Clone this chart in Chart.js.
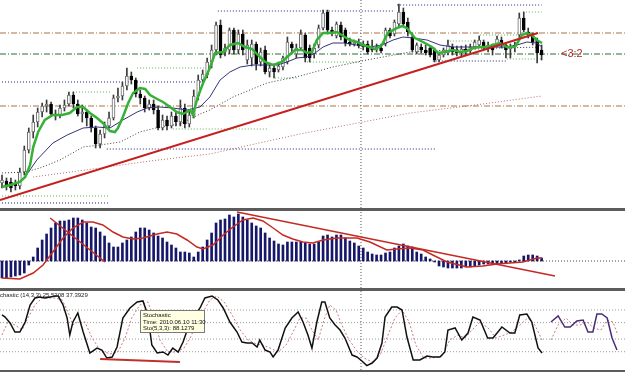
<!DOCTYPE html>
<html><head><meta charset="utf-8">
<script src="https://cdn.jsdelivr.net/npm/chart.js@4.4.1/dist/chart.umd.min.js"></script>
<style>
html,body{margin:0;padding:0;background:#fff;}
#wrap{position:relative;width:625px;height:372px;overflow:hidden;background:#fff;font-family:"Liberation Sans",Arial,sans-serif;}
canvas{position:absolute;left:0;}
.sep{position:absolute;left:0;width:625px;background:#5c5c5c;}
#lbl32{position:absolute;left:561px;top:47px;font-size:11px;line-height:12px;color:#b52a2a;}
#stTitle{position:absolute;left:-9px;top:292px;font-size:6px;line-height:7px;color:#222;white-space:nowrap;}
#tip{position:absolute;left:140px;top:310px;width:65px;height:23px;background:#ffffe1;border:1px solid #7a7a7a;font-size:6px;line-height:6.6px;color:#111;padding:1px 0 0 2px;box-sizing:border-box;white-space:nowrap;}
</style></head><body>
<div id="wrap">
<canvas id="main" width="625" height="208" style="top:0"></canvas>
<div class="sep" style="top:208px;height:3px"></div>
<canvas id="macd" width="625" height="77" style="top:211px"></canvas>
<div class="sep" style="top:288px;height:3px"></div>
<canvas id="stoch" width="625" height="79" style="top:291px"></canvas>
<div class="sep" style="top:370px;height:2px"></div>
<div id="lbl32">&lt;3:2</div>
<div id="stTitle">Stochastic (14,3,3) 25.5208 37.3929</div>
<div id="tip">Stochastic<br>Time: 2010.06.10 11:30<br>Sto(5,3,3): 88.1279</div>
</div>
<script>
// ---------- DATA (price in points, bar index on x) ----------
const candleOpen = [117,119,118,116,114,128,150,168,178,188, 194,196,186,184,192,196,205,196,186,188, 182,172,156,166,174,182,202,204,214,224, 220,206,202,192,196,190,172,180,174,184, 178,192,176,185,204,220,225,238,250,275, 248,250,270,250,266,240,242,256,238,250, 228,232,230,233,238,256,246,252,265,252, 246,255,272,288,270,264,275,270,258,256, 258,256,256,252,250,252,256,270,266,276, 288,278,263,248,253,250,252,250,240,245, 247,253,250,247,251,249,253,255,258,253, 255,255,260,255,251,253,265,282,268,264, 260,250];
const candleHigh = [125,122,122,120,132,154,172,185,192,197, 200,198,190,195,200,208,208,200,195,190, 184,174,170,178,188,205,212,218,232,228, 222,210,204,200,200,194,185,184,188,188, 200,196,190,210,225,230,242,255,278,280, 256,272,272,270,270,260,260,258,252,254, 236,236,238,244,263,258,256,270,267,255, 256,275,290,290,273,278,278,272,262,260, 261,259,259,260,256,256,272,272,280,296, 292,282,267,257,256,255,254,252,246,252, 260,256,254,254,255,256,260,264,260,258, 256,264,263,256,256,258,287,288,272,267, 262,255];
const candleLow = [112,110,108,110,111,125,147,162,173,183, 188,184,180,182,189,194,192,184,178,174, 168,152,152,162,172,180,198,200,210,216, 203,196,188,190,186,170,170,170,172,174, 174,172,173,182,200,218,222,232,245,242, 244,246,246,246,245,236,234,230,234,226, 223,222,228,230,236,246,242,250,238,238, 242,252,270,266,264,262,260,254,254,254, 252,250,246,248,248,247,254,262,264,274, 274,264,248,246,247,245,243,238,238,243, 245,245,244,244,245,247,251,253,250,248, 245,253,252,242,242,248,262,268,262,255, 237,240];
const candleClose = [120,114,112,114,128,150,168,178,188,194, 196,186,184,192,195,205,196,186,188,182, 172,156,166,174,182,202,204,214,224,220, 206,202,192,196,190,172,180,174,184,178, 192,176,185,204,220,226,238,250,275,245, 252,270,250,266,250,255,256,236,248,228, 232,228,234,242,258,252,252,266,242,242, 252,272,287,270,267,276,263,257,256,258, 254,253,248,250,253,249,270,264,278,288, 276,268,250,255,250,247,245,240,245,250, 255,248,247,251,248,253,258,260,253,255, 250,261,255,250,253,255,282,270,265,258, 247,245];

// moving averages: [barIndex, value]
const fastMA = [[0,113],[1.8,115],[4,118],[5.2,123],[6.3,135],[7,153],[8.1,168],[9.6,180],[11.4,185],[13.5,185],[15.2,187],[16.8,193],[18.2,193],[19.7,187],[21.3,182],[22.6,177],[24.2,169],[25.3,168],[26,172],[27.1,183],[28.3,197],[29.4,207],[30.9,212],[32.1,211],[33.2,205],[34.8,201],[36.1,198],[37.7,193],[39.2,188],[40.6,186],[42.2,190],[42.8,185],[43.9,203],[45.1,217],[46.6,232],[47.8,247],[49.6,248],[51.1,255],[52.9,257],[54.5,253],[56.1,251],[57.4,245],[59,238],[60.8,235],[62.8,238],[63.9,243],[65.7,250],[67.3,250],[68.4,247],[69.5,248],[70.6,260],[72,267],[73.5,267],[75.1,268],[76.5,264],[78,260],[79.6,258],[80.9,255],[82.5,253],[83.6,251],[85.2,255],[86.5,267],[88.6,272],[89.7,274],[90.8,272],[91.5,268],[92.6,262],[94.4,258],[96.4,253],[97.8,247],[99.3,248],[101.1,250],[102.7,248],[104.3,249],[105.6,252],[107.2,253],[108.7,253],[110.1,255],[111.7,257],[113.2,253],[115,253],[115.7,258],[116.6,265],[117.7,267],[118.8,265],[119.9,260],[121.1,257]];
const midMA = [[5.2,123],[7.8,140],[11.4,157],[14.6,165],[18.2,172],[21.3,173],[24.2,172],[27.1,180],[30.3,188],[32.5,192],[35.4,193],[38.3,192],[41.5,190],[44.4,193],[46.6,203],[48.9,220],[51.1,228],[53.4,233],[56.3,235],[59.4,235],[61.7,235],[63.9,238],[66.1,242],[68.4,243],[70.2,247],[72,253],[74.2,257],[76.5,257],[79.6,255],[82.5,253],[85.2,255],[87.7,260],[89.9,263],[92.2,262],[95.3,260],[98.2,255],[101.1,253],[104.3,253],[107.2,253],[110.1,253],[113.2,253],[115.5,255],[117.7,258],[119.9,257],[121.1,253]];
const slowMA = [[0,127],[5.2,128],[8.5,132],[13,140],[18.2,153],[22,155],[26.5,158],[30.9,168],[35.4,173],[39.9,176],[44.4,186],[46.6,190],[51.8,203],[59.4,217],[66.8,224],[74.2,233],[81.8,240],[91.5,248],[100.4,250],[111.7,252],[121.1,253]];
const longMA = [[7,123],[22,132],[33.2,139],[46.6,146],[66.8,166],[91.5,187],[106.1,195],[121.1,204]];
const trendMain = [[-0.45,100],[120.2,267]];

// horizontal levels: full width and partial [value, fromBar, toBar]
const brownLevels = [267,194];
const greenLevel = 246;
const navyDotted = [[218,0,45.5],[151,23.5,97.5],[97,0,24],[289,48.4,88.1],[295,88.6,121],[239,96.6,113.2]];
const greenDotted = [[104,0,24],[171,38.3,59.6],[232,30.3,46.6],[208,15.9,24.2],[238,68.4,80.3],[222,61.2,66.1],[288,116.8,121],[265,107.2,115.5],[259,100.4,107.2],[241,113.2,121]];
const cursorBar = 80.5;

// MACD
const macdHist = [-17,-17,-16,-15,-14,-12,-4,4,13,21, 27,33,38,40,40,41,43,43,41,38, 34,33,29,25,18,14,14,18,21,24, 29,33,33,31,28,25,23,19,16,13, 9,9,8,4,9,14,21,28,38,41, 42,46,44,47,44,41,38,35,33,28, 23,20,17,16,19,19,19,19,18,17, 17,19,25,26,24,26,26,23,20,18, 15,13,9,7,6,6,8,9,13,15, 17,15,14,9,7,4,2,-1,-5,-6, -7,-7,-7,-7,-6,-6,-5,-4,-3,-3, -2,-3,-2,-2,-1,-1,1,5,6,6, 5,3];
const macdSignal = [[0,-17],[4,-18],[7,-12],[9.2,-4],[11.4,9],[13.7,23],[15.9,33],[18.2,39],[20.4,39],[22.6,36],[24.9,29],[27.1,24],[29.4,22],[31.6,23],[34.8,27],[37,29],[39.2,27],[41.5,21],[43.7,14],[45.1,12],[47.3,16],[49.6,26],[51.8,34],[54,41],[56.3,43],[58.5,40],[60.8,33],[63,26],[65.2,22],[67.5,19],[69.7,18],[72,21],[75.1,23],[79.6,23],[82.5,19],[86.3,11],[88.6,12],[91.5,13],[94.4,11],[96.6,6],[99.8,-1],[104.3,-6],[107.8,-5],[111,-3],[113.9,-2],[116.8,-1],[120,3],[121.1,3]];
const macdTrend1 = [[10.8,43],[23.1,-1]];
const macdTrend2 = [[52.7,49],[124,-15]];

// Stochastic
const stochLevels = [80,61.8,38.2,20];
const stochMain = [[0,72.8],[0.7,69.9],[1.8,61.3],[2.9,48.3],[4,48.3],[5.2,62.7],[6.3,87.2],[7.4,97.3],[8.5,98.7],[9.6,97.3],[10.8,98.7],[11.9,100],[12.6,100],[13.7,87.2],[14.6,68.5],[15.2,44],[15.9,62.7],[17,75.7],[18.2,48.3],[19.7,18.1],[21.3,25.3],[22.4,22.4],[23.5,10.9],[24.7,12.4],[25.8,26.8],[27.1,68.5],[28.7,82.9],[30.3,91.5],[31.6,93],[32.7,72.8],[33.6,29.6],[34.8,18.1],[36.1,19.6],[37.2,15.2],[38.3,25.3],[39.5,19.6],[40.6,34],[41.7,54.1],[42.8,68.5],[44.4,82.9],[45.5,97.3],[47.1,100],[48.4,94.4],[49.6,82.9],[51.1,62.7],[52.7,48.3],[53.8,34],[54.9,32.5],[56.1,32.5],[57.2,26.8],[57.8,36.8],[59,22.4],[60.1,19.6],[60.8,12.4],[61.9,22.4],[63.5,54.1],[65,68.5],[66.4,77.1],[67.5,62.7],[68.6,44],[69.5,25.3],[70.6,62.7],[71.7,91.5],[72.4,91.5],[73.5,68.5],[74.7,58.4],[75.8,51.2],[76.9,39.7],[78.5,15.2],[79.6,12.4],[80.7,6.6],[81.8,0],[83,3.7],[84.1,10.9],[85.2,32.5],[85.9,69.9],[87.4,84.3],[88.6,84.3],[89.7,80],[90.8,41.1],[92.2,8.1],[93.7,8.1],[95.3,13.8],[96.6,12.4],[98.2,12.4],[99.3,19.6],[100,51.2],[101.6,54.1],[103.1,36.8],[104.5,46.9],[105.6,69.9],[107.2,65.6],[108.9,39.7],[110.1,39.7],[112.1,55.5],[113.9,46.9],[115,46.9],[116.1,72.8],[117.7,74.2],[118.8,62.7],[120.2,25.3],[121.1,18.1]];
const stochSignal = [[0,44],[1.3,62.7],[2.9,58.4],[4.5,51.2],[5.8,68.5],[7.4,87.2],[9,97.3],[11.9,97.3],[13.5,94.4],[14.8,77.1],[15.9,58.4],[17,62.7],[18.6,62.7],[20.2,39.7],[22,22.4],[24.2,16.7],[26,19.6],[27.6,39.7],[29.1,68.5],[30.9,87.2],[32.7,91.5],[34.1,68.5],[35.4,36.8],[37.2,19.6],[39,19.6],[40.8,25.3],[42.2,39.7],[43.5,58.4],[45.1,77.1],[46.6,94.4],[48.2,100],[49.8,91.5],[51.6,72.8],[53.4,51.2],[55.2,36.8],[57,31.1],[58.5,29.6],[60.1,25.3],[61.9,19.6],[63.7,29.6],[65.5,51.2],[66.8,68.5],[68.2,68.5],[69.5,51.2],[70.9,36.8],[72.2,65.6],[73.5,87.2],[74.9,80],[76.2,58.4],[77.6,39.7],[79.4,22.4],[81.2,10.9],[83,5.2],[84.8,15.2],[86.3,39.7],[88.1,68.5],[89.7,80],[91.3,62.7],[92.8,29.6],[94.6,10.9],[96.4,10.9],[98.7,13.8],[100.4,36.8],[102.2,44],[103.8,39.7],[105.4,51.2],[107.2,62.7],[109,54.1],[110.8,39.7],[112.6,44],[114.3,48.3],[116.1,58.4],[117.9,68.5],[119.5,58.4],[121.1,36.8]];
const stochMain2 = [[123.1,62.7],[124.7,71.4],[126.2,55.5],[127.4,55.5],[128.9,64.2],[130.3,65.6],[131.4,48.3],[132.5,48.3],[133.4,74.2],[134.5,74.2],[135.7,68.5],[136.8,39.7],[137.9,22.4]];
const stochSignal2 = [[123.1,36.8],[124.7,58.4],[126.5,68.5],[128,58.4],[129.6,58.4],[131.2,62.7],[132.7,54.1],[134.3,51.2],[135.7,65.6],[137,62.7],[138.1,44]];
const stochTrend = [[22,9.5],[39.9,5.2]];

// ---------- RENDERING ----------
const X_MIN = -0.45, X_MAX = 139.7;
const pts = arr => arr.map(p => ({x:p[0], y:p[1]}));
function line(data, color, width, dash, order){
  return {type:'line', data, borderColor:color, borderWidth:width, borderDash:dash||[], pointRadius:0, fill:false, tension:0, order};
}
function hseg(v, a, b, color, width, dash, order){ return line([{x:a,y:v},{x:b,y:v}], color, width, dash, order); }
function vseg(x, lo, hi, order){ return line([{x,y:lo},{x,y:hi}], '#555', 1, [1,2], order); }
function opts(ymin, ymax){
  return {responsive:false, animation:false, devicePixelRatio:1, events:[],
    layout:{padding:0},
    plugins:{legend:{display:false}, tooltip:{enabled:false}},
    scales:{x:{type:'linear', min:X_MIN, max:X_MAX, display:false, offset:false},
            y:{min:ymin, max:ymax, display:false}}};
}

// main
const YMIN = 92, YMAX = 300;
const up = candleOpen.map((o,i) => candleClose[i] >= o);
const mainSets = [];
brownLevels.forEach(v => mainSets.push(hseg(v, X_MIN, X_MAX, '#a8734a', 1, [6,2,1,2], 60)));
mainSets.push(hseg(greenLevel, X_MIN, X_MAX, '#2f6a37', 1, [6,2,1,2], 60));
navyDotted.forEach(d => mainSets.push(hseg(d[0], d[1], d[2], '#23237e', 1, [1,2], 60)));
greenDotted.forEach(d => mainSets.push(hseg(d[0], d[1], d[2], '#58b04f', 1, [1,2], 60)));
mainSets.push(vseg(cursorBar, YMIN, YMAX, 55));
mainSets.push(line(pts(longMA), '#b86a6a', 1, [1,2], 45));
mainSets.push(line(pts(slowMA), '#3a3a3a', 1, [1,2], 45));
mainSets.push({type:'bar', data: candleOpen.map((o,i)=>({x:i, y:[candleLow[i], candleHigh[i]]})),
  backgroundColor:'#3a3a3a', barThickness:1, grouped:false, borderWidth:0, order:30});
mainSets.push({type:'bar', data: candleOpen.map((o,i)=>({x:i, y:[o, candleClose[i] === o ? o + 0.6 : candleClose[i]]})),
  backgroundColor: up.map(u => u ? '#ffffff' : '#000000'),
  borderColor: up.map(u => u ? '#6a6a6a' : '#000000'),
  borderWidth:1, borderSkipped:false, barThickness:3, grouped:false, order:20});
mainSets.push(line(pts(midMA), '#33337a', 1, [], 15));
mainSets.push(line(pts(fastMA), '#35b135', 2.5, [], 10));
mainSets.push(line(pts(trendMain), '#c4201d', 2, [], 5));
new Chart(document.getElementById('main'), {type:'bar', data:{datasets:mainSets}, options:opts(YMIN, YMAX)});

// MACD
const MMIN = -27, MMAX = 50;
const macdSets = [
  hseg(0, X_MIN, X_MAX, '#444', 1, [1,2], 60),
  vseg(cursorBar, MMIN, MMAX, 55),
  {type:'bar', data: macdHist.map((v,i)=>({x:i, y:v})), backgroundColor:'#17176a', barThickness:2, grouped:false, borderWidth:0, order:30},
  line(pts(macdSignal), '#c52a24', 1.5, [], 10),
  line(pts(macdTrend1), '#c52a24', 1.5, [], 5),
  line(pts(macdTrend2), '#c52a24', 1.5, [], 5)
];
new Chart(document.getElementById('macd'), {type:'bar', data:{datasets:macdSets}, options:opts(MMIN, MMAX)});

// Stochastic
const SMIN = -6.3, SMAX = 107.3;
const stSets = [];
stochLevels.forEach(v => stSets.push(hseg(v, X_MIN, X_MAX, '#9a9a9a', 1, [1,2], 60)));
stSets.push(vseg(cursorBar, SMIN, SMAX, 55));
stSets.push(line(pts(stochSignal), '#c77a7a', 1, [2,2], 30));
stSets.push(line(pts(stochSignal2), '#c77a7a', 1, [2,2], 30));
stSets.push(line(pts(stochMain), '#111111', 1.5, [], 20));
stSets.push(line(pts(stochMain2), '#4a2d78', 1.5, [], 20));
stSets.push(line(pts(stochTrend), '#c0302c', 2, [], 5));
new Chart(document.getElementById('stoch'), {type:'line', data:{datasets:stSets}, options:opts(SMIN, SMAX)});
</script>
</body></html>
